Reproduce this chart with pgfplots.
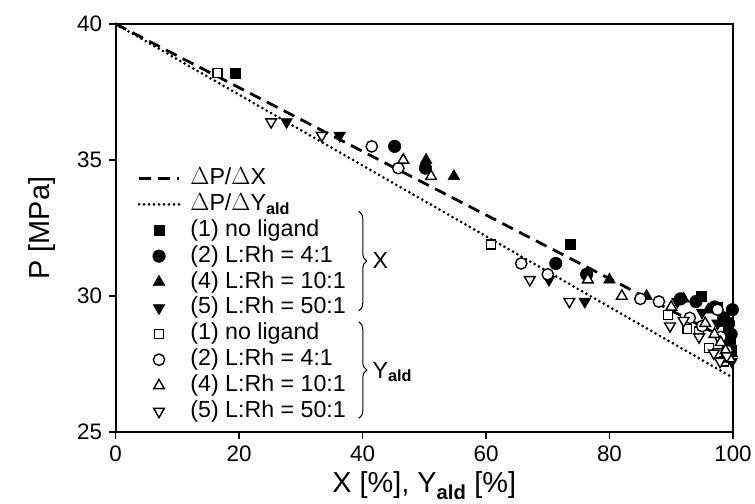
\documentclass[border=0pt]{standalone}
\usepackage{pgfplots}
\pgfplotsset{compat=1.18}
\usepackage{fontspec}
\setmainfont{Liberation Sans}
\usetikzlibrary{decorations.pathreplacing}

\begin{document}
\begin{tikzpicture}
\begin{axis}[
  name=ax, scale only axis, width=620pt, height=410pt,
  xmin=0, xmax=100, ymin=25, ymax=40,
  xtick={0,20,...,100}, ytick={25,30,35,40},
  axis line style={line width=2pt},
  tick style={line width=1.5pt, black}, major tick length=7pt,
  tick align=outside, tick pos=left,
  /pgf/number format/assume math mode=true,
  ticklabel style={font=\fontsize{22.5}{22.5}\selectfont},
  yticklabel style={xshift=-3pt},
  xticklabel style={yshift=-3pt},
  xlabel={X [\%], Y\textsubscript{\textbf{ald}} [\%]},
  ylabel={P [MPa]},
  every axis x label/.style={at={(axis description cs:0.5,-0.1488)}, anchor=base, font=\fontsize{29}{29}\selectfont},
  every axis y label/.style={at={(axis description cs:-0.1065,0.5)}, rotate=90, anchor=base, font=\fontsize{29}{29}\selectfont},
  clip=false,
  legend cell align=left,
  legend image code/.code={\draw[mark repeat=2,mark phase=2,#1] plot coordinates {(0pt,0pt) (20pt,0pt) (40pt,0pt)};},
  legend style={at={(axis description cs:0.0306,0.6537)}, anchor=north west, draw=none, fill=none,
    font=\fontsize{23.3}{23.3}\selectfont, row sep=4pt, column sep=10pt,
    nodes={inner sep=0pt, text height=17pt, text depth=5pt}},
]
\addplot[black, line width=2.8pt, dash pattern=on 12pt off 7pt] coordinates {(0,40) (100,28.3)};
\addlegendentry{$\Delta$P/$\Delta$X}
\addplot[black, line width=3pt, line cap=round, dash pattern=on 0pt off 5pt] coordinates {(0,40) (100,27.0)};
\addlegendentry{$\Delta$P/$\Delta$Y\textsubscript{\textbf{ald}}}

% X series (filled)
\addplot[only marks, mark=square*, mark size=5pt, mark options={draw=black, fill=black, line width=0.5pt}] coordinates {
(19.4,38.2) (73.7,31.9) (94.8,30.0) (97.5,29.6) (98.5,29.2) (99.2,28.8) (99.6,28.4) (99.8,28.0)};
\addlegendentry{(1) no ligand}
\addplot[only marks, mark=*, mark size=6.3pt, mark options={draw=black, fill=black, line width=0.5pt}] coordinates {
(45.2,35.5) (50.2,34.7) (71.3,31.2) (76.3,30.8) (91.5,29.9) (94,29.8) (97,29.6) (98.5,29.2) (99.3,29.0) (99.7,28.6) (99.9,29.5)};
\addlegendentry{(2) L:Rh = 4:1}
\addplot[only marks, mark=triangle*, mark size=6.8pt, mark options={draw=black, fill=black, line width=0.5pt}] coordinates {
(50.3,35.0) (54.8,34.4) (80,30.6) (86,30.0) (92,29.9) (96,29.5) (98,29.0) (99,28.7) (99.5,28.3) (99.8,27.9)};
\addlegendentry{(4) L:Rh = 10:1}
\addplot[only marks, mark=triangle*, mark size=6.8pt, mark options={draw=black, fill=black, line width=0.5pt, rotate=180}] coordinates {
(27.7,36.4) (36.3,35.9) (70.2,30.6) (76,29.8) (91,29.8) (95,29.4) (97.5,29.0) (99,28.5) (99.5,28.0) (99.8,27.6)};
\addlegendentry{(5) L:Rh = 50:1}

% Y series (open)
\addplot[only marks, mark=square*, mark size=4.5pt, mark options={draw=black, fill=white, line width=1.4pt}] coordinates {
(16.5,38.2) (60.8,31.9) (89.5,29.3) (92.6,28.8) (94.5,28.7) (96.1,28.1) (97.5,27.9) (98.5,27.6)};
\addlegendentry{(1) no ligand}
\addplot[only marks, mark=*, mark size=5.7pt, mark options={draw=black, fill=white, line width=1.4pt}] coordinates {
(41.5,35.5) (45.8,34.7) (65.7,31.2) (70,30.8) (85,29.9) (88,29.8) (93,29.2) (95,28.9) (97.5,29.5) (98,28.5) (99,28.0)};
\addlegendentry{(2) L:Rh = 4:1}
\addplot[only marks, mark=triangle*, mark size=6.2pt, mark options={draw=black, fill=white, line width=1.4pt}] coordinates {
(46.6,35.0) (51.1,34.4) (76.5,30.6) (82,30.0) (90,29.6) (95.5,29.0) (97,28.6) (98,28.3) (98.8,28.0) (99.5,27.7)};
\addlegendentry{(4) L:Rh = 10:1}
\addplot[only marks, mark=triangle*, mark size=6.2pt, mark options={draw=black, fill=white, line width=1.4pt, rotate=180}] coordinates {
(25.2,36.4) (33.4,35.9) (67.1,30.6) (73.5,29.8) (89.8,28.9) (92,29.1) (94.5,28.5) (96.9,27.9) (97.9,27.6) (99,27.8)};
\addlegendentry{(5) L:Rh = 50:1}

\draw[decorate, decoration={brace, amplitude=8pt}, line width=1pt] (axis cs:39.4,33.12) -- (axis cs:39.4,29.46);
\draw[decorate, decoration={brace, amplitude=8pt}, line width=1pt] (axis cs:39.4,29.06) -- (axis cs:39.4,25.51);
\node[anchor=base west, font=\fontsize{23.3}{23.3}\selectfont, inner sep=0pt] at (axis cs:41.6,31.0) {X};
\node[anchor=base west, font=\fontsize{23.3}{23.3}\selectfont, inner sep=0pt] at (axis cs:41.6,26.99) {Y\textsubscript{\textbf{ald}}};
\end{axis}
\path ([shift={(-116pt,-72pt)}]ax.south west) rectangle ([shift={(19pt,24pt)}]ax.north east);
\end{tikzpicture}
\end{document}
